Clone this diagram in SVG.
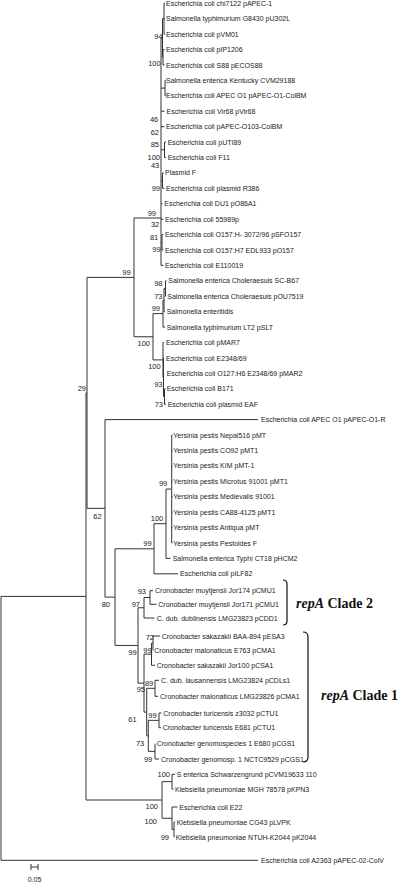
<svg xmlns="http://www.w3.org/2000/svg" width="400" height="883" viewBox="0 0 400 883">
<style>
.lf{font-family:"Liberation Sans",Arial,sans-serif;font-size:7px;fill:#222}
.bs{font-family:"Liberation Sans",Arial,sans-serif;font-size:7.5px;fill:#222;text-anchor:end}
.cl{font-family:"Liberation Serif","Times New Roman",serif;font-size:14px;font-weight:bold;fill:#111}
.ln{fill:none;stroke:#333;stroke-width:1}
.br{fill:none;stroke:#111;stroke-width:1.2}
</style>
<rect width="400" height="883" fill="#fff"/>
<g id="connectors" class="ln">
<path d="M1,596.4V860.3M1,596.4H86M1,860.3H258M86,392.9V800M86,392.9H87M86,800H162M87,277.4V508.35M87,277.4H134M87,508.35H105M134,218V336.75M134,218H161M134,336.75H153M105,419.6V597.1M105,419.6H258M105,597.1H115M115,548.8V645.45M115,548.8H154M115,645.45H138M154,523.7V573.8M154,523.7H166M154,573.8H178M166,489.05V558.4M166,489.05H171.7M166,558.4H170.5M171.7,435.1V543M171.7,435.1H172.5M171.7,450.5H172.5M171.7,465.9H172.5M171.7,481.3H172.5M171.7,496.7H172.5M171.7,512.2H172.5M171.7,527.6H172.5M171.7,543H172.5"/>
<path d="M138,607.75V683.15M138,607.75H144M138,683.15H144M144,597.5V618M144,597.5H150M144,618H154.5M150,590.7V604.3M150,590.7H153M150,604.3H156.5M144,654.2V712.1M144,654.2H151.5M144,712.1H146.7M151.5,643.15V665.3M151.5,643.15H153M151.5,665.3H155M153,636V650.3M153,636H160M146.7,688.3V735.85M146.7,688.3H155M146.7,735.85H148.3M155,680.3V696.3M155,680.3H159M155,696.3H158M148.3,720.35V751.35M148.3,720.35H159M148.3,751.35H155M159,713V727.7M159,713H161.5M159,727.7H161M155,743.7V759M155,759H159"/>
<path d="M162,781.65V818.25M162,781.65H172M162,818.25H172M172,774.3V789M172,774.3H175M172,789H173.5M172,807V829.5M172,807H177.5M172,829.5H174M174,822V837M174,822H175M174,837H174.5"/>
<path d="M161,38V265.4M161,38H162.5M162.5,18.7V57.3M162.5,18.7H164M164,3.3V34.1M164,3.3H165M164,18.7H165M164,34.1H165M162.5,57.3H163M163,49.6V65M163,49.6H164.5M163,65H164.5M161,88.1H165M165,80.4V95.8M165,80.4H165.8M165,95.8H165.8M161,111.2H164.5M161,126.7H164.5M161,149.8H164.5M164.5,142.1V157.5M164.5,142.1H166M164.5,157.5H166M161,180.6H162.5M162.5,172.9V188.3M162.5,172.9H163.5M162.5,188.3H164.5M161,203.8H162.5M161,219.2H163.3M161,242.3H162M162,234.6V250M162,234.6H163.3M162,250H163.3M161,265.4H163.3"/>
<path d="M153,313.6V359.9M153,313.6H163M153,359.9H163M163,300.15V327.1M163,300.15H164M163,327.1H165M164,288.6V311.7M164,288.6H165.5M164,311.7H165M165.5,280.9V296.3M165.5,280.9H166.5M165.5,296.3H166M163,342.5V377.25M163,342.5H164M163,377.25H163.5M163.5,358V396.5M163.5,358H164M163.5,396.5H164.5M164.5,388.8V404.2M164.5,388.8H165.5M164.5,404.2H166"/>
</g>
<g id="leaves">
<g id="leaf1"><text class="lf" x="166" y="5.8">Escherichia coli chi7122 pAPEC-1</text></g>
<g id="leaf2"><text class="lf" x="166" y="21.2">Salmonella typhimurium G8430 pU302L</text></g>
<g id="leaf3"><text class="lf" x="166" y="36.6">Escherichia coli pVM01</text></g>
<g id="leaf4"><text class="lf" x="166" y="52.1">Escherichia coli pIP1206</text></g>
<g id="leaf5"><text class="lf" x="166" y="67.5">Escherichia coli S88 pECOS88</text></g>
<g id="leaf6"><text class="lf" x="166" y="82.9">Salmonella enterica Kentucky CVM29188</text></g>
<g id="leaf7"><text class="lf" x="166" y="98.3">Escherichia coli APEC O1 pAPEC-O1-ColBM</text></g>
<g id="leaf8"><text class="lf" x="166.5" y="113.7">Escherichia coli Vir68 pVir68</text></g>
<g id="leaf9"><text class="lf" x="166" y="129.2">Escherichia coli pAPEC-O103-ColBM</text></g>
<g id="leaf10"><text class="lf" x="167.7" y="144.6">Escherichia coli pUTI89</text></g>
<g id="leaf11"><text class="lf" x="167.7" y="160">Escherichia coli F11</text></g>
<g id="leaf12"><text class="lf" x="165" y="175.4">Plasmid F</text></g>
<g id="leaf13"><text class="lf" x="166" y="190.8">Escherichia coli plasmid R386</text></g>
<g id="leaf14"><text class="lf" x="164.3" y="206.3">Escherichia coli DU1 pO86A1</text></g>
<g id="leaf15"><text class="lf" x="165" y="221.7">Escherichia coli 55989p</text></g>
<g id="leaf16"><text class="lf" x="165" y="237.1">Escherichia coli O157:H- 3072/96 pSFO157</text></g>
<g id="leaf17"><text class="lf" x="165" y="252.5">Escherichia coli O157:H7 EDL933 pO157</text></g>
<g id="leaf18"><text class="lf" x="165" y="267.9">Escherichia coli E110019</text></g>
<g id="leaf19"><text class="lf" x="168.3" y="283.4">Salmonella enterica Choleraesuis SC-B67</text></g>
<g id="leaf20"><text class="lf" x="167.3" y="298.8">Salmonella enterica Choleraesuis pOU7519</text></g>
<g id="leaf21"><text class="lf" x="166.7" y="314.2">Salmonella enteritidis</text></g>
<g id="leaf22"><text class="lf" x="166.7" y="329.6">Salmonella typhimurium LT2 pSLT</text></g>
<g id="leaf23"><text class="lf" x="166" y="345">Escherichia coli pMAR7</text></g>
<g id="leaf24"><text class="lf" x="166" y="360.5">Escherichia coli E2348/69</text></g>
<g id="leaf25"><text class="lf" x="166.7" y="375.9">Escherichia coli O127:H6 E2348/69 pMAR2</text></g>
<g id="leaf26"><text class="lf" x="166.7" y="391.3">Escherichia coli B171</text></g>
<g id="leaf27"><text class="lf" x="167.7" y="406.7">Escherichia coli plasmid EAF</text></g>
<g id="leaf28"><text class="lf" x="261" y="422.1">Escherichia coli APEC O1 pAPEC-O1-R</text></g>
<g id="leaf29"><text class="lf" x="173.3" y="437.6">Yersinia pestis Nepal516 pMT</text></g>
<g id="leaf30"><text class="lf" x="173.3" y="453">Yersinia pestis CO92 pMT1</text></g>
<g id="leaf31"><text class="lf" x="173.3" y="468.4">Yersinia pestis KIM pMT-1</text></g>
<g id="leaf32"><text class="lf" x="173.3" y="483.8">Yersinia pestis Microtus 91001 pMT1</text></g>
<g id="leaf33"><text class="lf" x="173.3" y="499.2">Yersinia pestis Medievalis 91001</text></g>
<g id="leaf34"><text class="lf" x="173.3" y="514.7">Yersinia pestis CA88-4125 pMT1</text></g>
<g id="leaf35"><text class="lf" x="173.3" y="530.1">Yersinia pestis Antiqua pMT</text></g>
<g id="leaf36"><text class="lf" x="173.3" y="545.5">Yersinia pestis Pestoides F</text></g>
<g id="leaf37"><text class="lf" x="172.7" y="560.9">Salmonella enterica Typhi CT18 pHCM2</text></g>
<g id="leaf38"><text class="lf" x="180" y="576.3">Escherichia coli pILF82</text></g>
<g id="leaf39"><text class="lf" x="155" y="593.2">Cronobacter muytjensii Jor174 pCMU1</text></g>
<g id="leaf40"><text class="lf" x="158.3" y="606.8">Cronobacter muytjensii Jor171 pCMU1</text></g>
<g id="leaf41"><text class="lf" x="156.7" y="620.5">C. dub. dublinensis LMG23823 pCDD1</text></g>
<g id="leaf42"><text class="lf" x="161.7" y="638.5">Cronobacter sakazakii BAA-894 pESA3</text></g>
<g id="leaf43"><text class="lf" x="154.3" y="652.8">Cronobacter malonaticus E763 pCMA1</text></g>
<g id="leaf44"><text class="lf" x="156.7" y="667.8">Cronobacter sakazakii Jor100 pCSA1</text></g>
<g id="leaf45"><text class="lf" x="161" y="682.8">C. dub. lausannensis LMG23824 pCDLs1</text></g>
<g id="leaf46"><text class="lf" x="160" y="698.8">Cronobacter malonaticus LMG23826 pCMA1</text></g>
<g id="leaf47"><text class="lf" x="163.3" y="715.5">Cronobacter turicensis z3032 pCTU1</text></g>
<g id="leaf48"><text class="lf" x="162.7" y="730.2">Cronobacter turicensis E681 pCTU1</text></g>
<g id="leaf49"><text class="lf" x="156.7" y="746.2">Cronobacter genomospecies 1 E680 pCGS1</text></g>
<g id="leaf50"><text class="lf" x="161" y="761.5">Cronobacter genomosp. 1 NCTC9529 pCGS1</text></g>
<g id="leaf51"><text class="lf" x="176.7" y="776.8">S enterica Schwarzengrund pCVM19633 110</text></g>
<g id="leaf52"><text class="lf" x="175" y="791.5">Klebsiella pneumoniae MGH 78578 pKPN3</text></g>
<g id="leaf53"><text class="lf" x="179.3" y="809.5">Escherichia coli E22</text></g>
<g id="leaf54"><text class="lf" x="176.7" y="824.5">Klebsiella pneumoniae CG43 pLVPK</text></g>
<g id="leaf55"><text class="lf" x="175.7" y="839.5">Klebsiella pneumoniae NTUH-K2044 pK2044</text></g>
<g id="leaf56"><text class="lf" x="261" y="862.8">Escherichia coli A2363 pAPEC-02-ColV</text></g>
</g>
<g id="bootstrap">
<g id="bs1"><text class="bs" x="162.7" y="38.7">94</text></g>
<g id="bs2"><text class="bs" x="160.7" y="65.7">100</text></g>
<g id="bs3"><text class="bs" x="158.3" y="121.7">46</text></g>
<g id="bs4"><text class="bs" x="159" y="134.7">62</text></g>
<g id="bs5"><text class="bs" x="159" y="146.7">85</text></g>
<g id="bs6"><text class="bs" x="160" y="159.7">100</text></g>
<g id="bs7"><text class="bs" x="159.3" y="167.7">43</text></g>
<g id="bs8"><text class="bs" x="160" y="190.7">99</text></g>
<g id="bs9"><text class="bs" x="156" y="215.7">99</text></g>
<g id="bs10"><text class="bs" x="159.3" y="226.7">32</text></g>
<g id="bs11"><text class="bs" x="158.3" y="239.7">81</text></g>
<g id="bs12"><text class="bs" x="160.7" y="251.7">99</text></g>
<g id="bs13"><text class="bs" x="130.7" y="274.7">99</text></g>
<g id="bs14"><text class="bs" x="162.5" y="285.7">98</text></g>
<g id="bs15"><text class="bs" x="162.5" y="298.7">73</text></g>
<g id="bs16"><text class="bs" x="160" y="310.7">99</text></g>
<g id="bs17"><text class="bs" x="150" y="345.7">100</text></g>
<g id="bs18"><text class="bs" x="160.7" y="368.7">100</text></g>
<g id="bs19"><text class="bs" x="162.5" y="386.7">93</text></g>
<g id="bs20"><text class="bs" x="163" y="406.7">73</text></g>
<g id="bs21"><text class="bs" x="86" y="390.7">29</text></g>
<g id="bs22"><text class="bs" x="167.3" y="485.7">99</text></g>
<g id="bs23"><text class="bs" x="101.7" y="518.7">62</text></g>
<g id="bs24"><text class="bs" x="163.3" y="520.7">100</text></g>
<g id="bs25"><text class="bs" x="151.7" y="545.7">99</text></g>
<g id="bs26"><text class="bs" x="146" y="593.7">93</text></g>
<g id="bs27"><text class="bs" x="140" y="606.7">97</text></g>
<g id="bs28"><text class="bs" x="110" y="606.7">80</text></g>
<g id="bs29"><text class="bs" x="154" y="639.7">72</text></g>
<g id="bs30"><text class="bs" x="151.7" y="652.7">99</text></g>
<g id="bs31"><text class="bs" x="136.7" y="654.7">99</text></g>
<g id="bs32"><text class="bs" x="153.3" y="685.7">89</text></g>
<g id="bs33"><text class="bs" x="145" y="691.7">95</text></g>
<g id="bs34"><text class="bs" x="136.7" y="721.7">61</text></g>
<g id="bs35"><text class="bs" x="156.7" y="717.7">99</text></g>
<g id="bs36"><text class="bs" x="144.3" y="745.7">73</text></g>
<g id="bs37"><text class="bs" x="152.3" y="761.7">99</text></g>
<g id="bs38"><text class="bs" x="170" y="776.7">100</text></g>
<g id="bs39"><text class="bs" x="158" y="808.7">100</text></g>
<g id="bs40"><text class="bs" x="157" y="823.7">100</text></g>
<g id="bs41"><text class="bs" x="169" y="839.7">99</text></g>
</g>
<g id="clade2">
<path class="br" d="M283,580Q287,580 287,584V621Q287,625 283,625"/>
<text class="cl" x="296" y="607.5"><tspan font-style="italic">repA</tspan> Clade 2</text>
</g>
<g id="clade1">
<path class="br" d="M303,632Q308,632 308,637V757Q308,762 303,762"/>
<text class="cl" x="321" y="700"><tspan font-style="italic">repA</tspan> Clade 1</text>
</g>
<g id="scalebar">
<path class="ln" d="M31,864V870M31,867H38M38,864V870"/>
<text class="lf" x="34.5" y="882" text-anchor="middle">0.05</text>
</g>
</svg>
